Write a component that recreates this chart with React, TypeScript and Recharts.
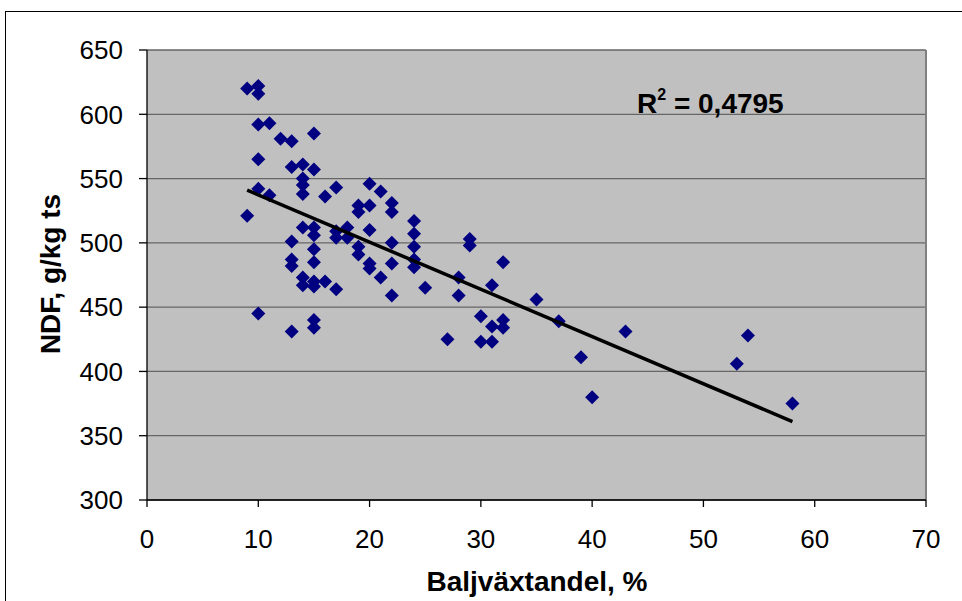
import React from "react";
import {
  ScatterChart,
  Scatter,
  XAxis,
  YAxis,
  CartesianGrid,
  ReferenceLine,
} from "recharts";

// Baljväxtandel, % (x) per observation
const legumeShare: number[] = [
  9, 9,
  10, 10, 10, 10, 10, 10,
  11, 11,
  12,
  13, 13, 13, 13, 13, 13,
  14, 14, 14, 14, 14, 14, 14,
  15, 15, 15, 15, 15, 15, 15, 15, 15, 15,
  16, 16,
  17, 17, 17, 17,
  18, 18,
  19, 19, 19, 19,
  20, 20, 20, 20, 20,
  21, 21,
  22, 22, 22, 22, 22,
  24, 24, 24, 24, 24,
  25,
  27,
  28, 28,
  29, 29,
  30, 30,
  31, 31, 31,
  32, 32, 32,
  35, 37, 39, 40, 43, 53, 54, 58,
];

// NDF, g/kg ts (y) per observation
const ndfValues: number[] = [
  620, 521,
  622, 616, 592, 565, 542, 445,
  593, 537,
  581,
  579, 559, 501, 487, 482, 431,
  561, 550, 545, 538, 512, 473, 467,
  585, 557, 512, 506, 495, 485, 470, 466, 440, 434,
  536, 470,
  543, 509, 504, 464,
  512, 504,
  529, 524, 497, 491,
  546, 529, 510, 484, 480,
  540, 473,
  531, 524, 500, 484, 459,
  517, 507, 497, 487, 481,
  465,
  425,
  473, 459,
  503, 498,
  443, 423,
  467, 435, 423,
  485, 440, 434,
  456, 439, 411, 380, 431, 406, 428, 375,
];

// Linear trendline endpoints
const trendX: number[] = [9, 58];
const trendY: number[] = [541, 361];

const xTicks: number[] = [0, 10, 20, 30, 40, 50, 60, 70];
const yTicks: number[] = [300, 350, 400, 450, 500, 550, 600, 650];

const xTitle = "Baljväxtandel, %";
const yTitle = "NDF, g/kg ts";
const rSquared = "0,4795";

const points = legumeShare.map((x, i) => ({ x, y: ndfValues[i] }));
const trend = trendX.map((x, i) => ({ x, y: trendY[i] }));

const FONT = "'Liberation Sans', Arial, Helvetica, sans-serif";

const Diamond = (props: any) => {
  const { cx, cy } = props;
  if (cx == null || cy == null) return null;
  const r = 7;
  return (
    <polygon
      points={`${cx},${cy - r} ${cx + r},${cy} ${cx},${cy + r} ${cx - r},${cy}`}
      fill="#000080"
    />
  );
};

const NoShape = () => null;

export default function App() {
  return (
    <div
      style={{
        position: "absolute",
        left: 0,
        top: 0,
        width: 962,
        height: 601,
        overflow: "hidden",
        background: "#fff",
      }}
    >
      <div
        style={{
          position: "absolute",
          left: 5,
          top: 11,
          width: 1100,
          height: 800,
          border: "1px solid #000",
        }}
      />
      <div style={{ position: "absolute", left: 0, top: 0 }}>
        <ScatterChart
          width={962}
          height={601}
          margin={{ top: 50, right: 36, bottom: 0, left: 0 }}
        >
          <CartesianGrid
            horizontal={true}
            vertical={false}
            fill="#C0C0C0"
            fillOpacity={1}
            stroke="#666666"
            strokeWidth={1.3}
            horizontalValues={yTicks}
          />
          <ReferenceLine x={70} stroke="#808080" strokeWidth={2} />
          <XAxis
            type="number"
            dataKey="x"
            domain={[0, 70]}
            ticks={xTicks}
            interval={0}
            allowDataOverflow
            height={101}
            axisLine={{ stroke: "#000", strokeWidth: 1.3 }}
            tickLine={{ stroke: "#000", strokeWidth: 1.3 }}
            tickSize={7}
            tickMargin={23}
            tick={{ fill: "#000", fontSize: 26, fontFamily: FONT }}
          />
          <YAxis
            type="number"
            dataKey="y"
            domain={[300, 650]}
            ticks={yTicks}
            interval={0}
            allowDataOverflow
            width={147}
            axisLine={{ stroke: "#000", strokeWidth: 1.3 }}
            tickLine={{ stroke: "#000", strokeWidth: 1.3 }}
            tickSize={8}
            tickMargin={16}
            tick={{ fill: "#000", fontSize: 26, fontFamily: FONT }}
          />
          <Scatter
            data={points}
            shape={<Diamond />}
            isAnimationActive={false}
          />
          <Scatter
            data={trend}
            line={{ stroke: "#000", strokeWidth: 3.5 }}
            strokeWidth={3.5}
            stroke="#000"
            shape={<NoShape />}
            isAnimationActive={false}
          />
        </ScatterChart>
      </div>
      <svg
        width={962}
        height={601}
        style={{ position: "absolute", left: 0, top: 0, pointerEvents: "none" }}
      >
        <text
          x={50}
          y={274}
          transform="rotate(-90 50 274)"
          textAnchor="middle"
          dominantBaseline="central"
          fontFamily={FONT}
          fontWeight="bold"
          fontSize={28}
          fill="#000"
        >
          {yTitle}
        </text>
        <text
          x={537}
          y={591}
          textAnchor="middle"
          fontFamily={FONT}
          fontWeight="bold"
          fontSize={28}
          fill="#000"
        >
          {xTitle}
        </text>
        <text
          x={637}
          y={113}
          fontFamily={FONT}
          fontWeight="bold"
          fontSize={28}
          fill="#000"
        >
          R
          <tspan fontSize={16} dy={-13}>
            2
          </tspan>
          <tspan dy={13}>{` = ${rSquared}`}</tspan>
        </text>
      </svg>
    </div>
  );
}
